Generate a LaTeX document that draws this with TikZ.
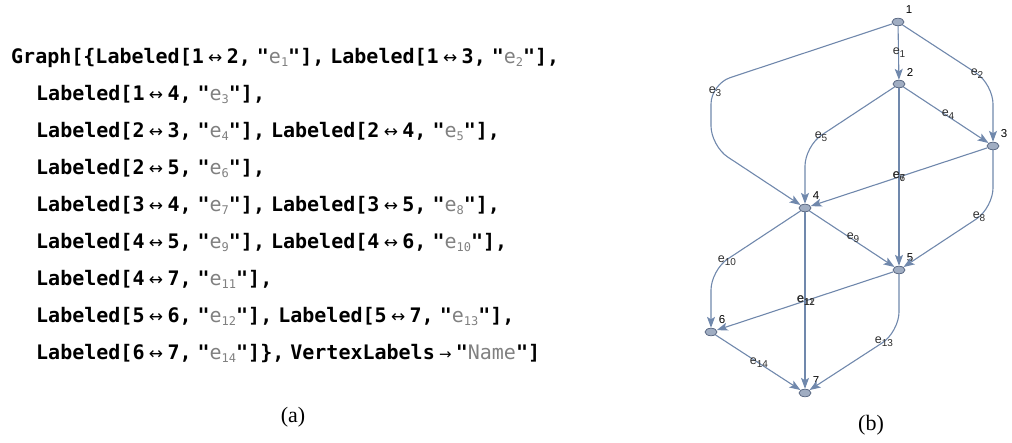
\documentclass[tikz,border=0pt]{standalone}
\usepackage{fontspec}
\setmainfont{Liberation Serif}
\newfontfamily\codefont{DejaVu Sans Mono}
\newfontfamily\symfont{DejaVu Sans}
\newfontfamily\lblfont{Liberation Sans}
\usetikzlibrary{arrows.meta,calc,shapes.geometric}

\definecolor{edgeblue}{RGB}{112,136,172}
\definecolor{vfill}{RGB}{160,173,194}
\definecolor{vline}{RGB}{92,106,132}
\definecolor{strgray}{RGB}{128,128,128}
\definecolor{lblgray}{RGB}{45,45,45}

% code helpers: undirected edge, rule arrow, string literal, comma with a short space
\newcommand\ud[2]{#1\hspace{4pt}\makebox[15pt]{\symfont\mdseries\fontsize{17}{17}\selectfont ↔}\hspace{4pt}#2}
\newcommand\rarr{\hspace{4pt}\makebox[13pt]{\symfont\mdseries\fontsize{15}{15}\selectfont →}\hspace{4pt}}
\newcommand\es[1]{"{\mdseries\color{strgray}e\raisebox{-2.5pt}{\fontsize{12}{12}\selectfont #1}}"}
\newcommand\cs{,\hspace{6pt}}
\newcommand\el[1]{e\raisebox{-3pt}{\fontsize{10}{10}\selectfont #1}}

\tikzset{
  codeline/.style={anchor=base west, inner sep=0pt,
    font=\codefont\bfseries\fontsize{20}{20}\selectfont},
  caption/.style={inner sep=0pt, font=\fontsize{22}{22}\selectfont},
  vtx/.style={ellipse, draw=vline, fill=vfill, line width=0.8pt,
    minimum width=12pt, minimum height=7.5pt, inner sep=0pt},
  vlbl/.style={inner sep=0pt, font=\lblfont\fontsize{11.5}{11.5}\selectfont},
  elbl/.style={inner sep=0pt, text=lblgray, font=\lblfont\fontsize{12.5}{12.5}\selectfont},
  edge/.style={draw=edgeblue, line width=1.1pt,
    -{Stealth[length=11pt,width=8pt,inset=2.5pt]}},
  bent/.style={edge, rounded corners=20pt}
}

\begin{document}
\begin{tikzpicture}[x=1pt,y=-1pt]
\useasboundingbox (0,0) rectangle (1012,443);

% ---- (a) the input expression ----
\node[codeline] (c1) at (11,64) {Graph[\{Labeled[\ud12\cs\es1]\cs Labeled[\ud13\cs\es2],};
\node[codeline] (c2) at (36,101) {Labeled[\ud14\cs\es3],};
\node[codeline] (c3) at (36,138) {Labeled[\ud23\cs\es4]\cs Labeled[\ud24\cs\es5],};
\node[codeline] (c4) at (36,175) {Labeled[\ud25\cs\es6],};
\node[codeline] (c5) at (36,212) {Labeled[\ud34\cs\es7]\cs Labeled[\ud35\cs\es8],};
\node[codeline] (c6) at (36,249) {Labeled[\ud45\cs\es9]\cs Labeled[\ud46\cs\es{10}],};
\node[codeline] (c7) at (36,286) {Labeled[\ud47\cs\es{11}],};
\node[codeline] (c8) at (36,323) {Labeled[\ud56\cs\es{12}]\cs Labeled[\ud57\cs\es{13}],};
\node[codeline] (c9) at (36,360) {Labeled[\ud67\cs\es{14}]\}\cs VertexLabels\rarr"{\mdseries\color{strgray}Name}"]};
\node[caption] (capa) at (293,417) {(a)};

% ---- (b) the layered drawing ----
\node[vtx] (n1) at (898,22) {};
\node[vtx] (n2) at (899,84) {};
\node[vtx] (n3) at (993,146) {};
\node[vtx] (n4) at (805,208) {};
\node[vtx] (n5) at (899,270) {};
\node[vtx] (n6) at (711,332) {};
\node[vtx] (n7) at (805,393) {};

\foreach \i in {1,...,7}
  \node[vlbl] (t\i) at ($(n\i)+(11,-12)$) {\i};

% bend points of the long edges
\coordinate (b13) at (993,84);
\coordinate (b14a) at (711,84);
\coordinate (b14b) at (711,146);
\coordinate (b24) at (805,146);
\coordinate (b35) at (993,208);
\coordinate (b46) at (711,270);
\coordinate (b57) at (899,332);

\draw[edge] (n1) -- (n2);
\draw[bent] (n1) -- (b13) -- (n3);
\draw[bent] (n1) -- (b14a) -- (b14b) -- (n4);
\draw[edge] (n2) -- (n3);
\draw[bent] (n2) -- (b24) -- (n4);
\draw[edge] (n2) -- (n5);
\draw[edge] (n3) -- (n4);
\draw[bent] (n3) -- (b35) -- (n5);
\draw[edge] (n4) -- (n5);
\draw[bent] (n4) -- (b46) -- (n6);
\draw[edge] (n4) -- (n7);
\draw[edge] (n5) -- (n6);
\draw[bent] (n5) -- (b57) -- (n7);
\draw[edge] (n6) -- (n7);

\node[elbl] (e1) at (899,53) {\el1};
\node[elbl] (e2) at (977,74) {\el2};
\node[elbl] (e3) at (715,92) {\el3};
\node[elbl] (e4) at (948,115) {\el4};
\node[elbl] (e5) at (821,137) {\el5};
\node[elbl] (e6) at (899,177) {\el6};
\node[elbl] (e7) at (899,177) {\el7};
\node[elbl] (e8) at (979,217) {\el8};
\node[elbl] (e9) at (853,238) {\el9};
\node[elbl] (e10) at (727,261) {\el{10}};
\node[elbl] (e11) at (806,301) {\el{11}};
\node[elbl] (e12) at (806,301) {\el{12}};
\node[elbl] (e13) at (884,342) {\el{13}};
\node[elbl] (e14) at (759,363) {\el{14}};

\node[caption] (capb) at (871,425) {(b)};
\end{tikzpicture}
\end{document}
